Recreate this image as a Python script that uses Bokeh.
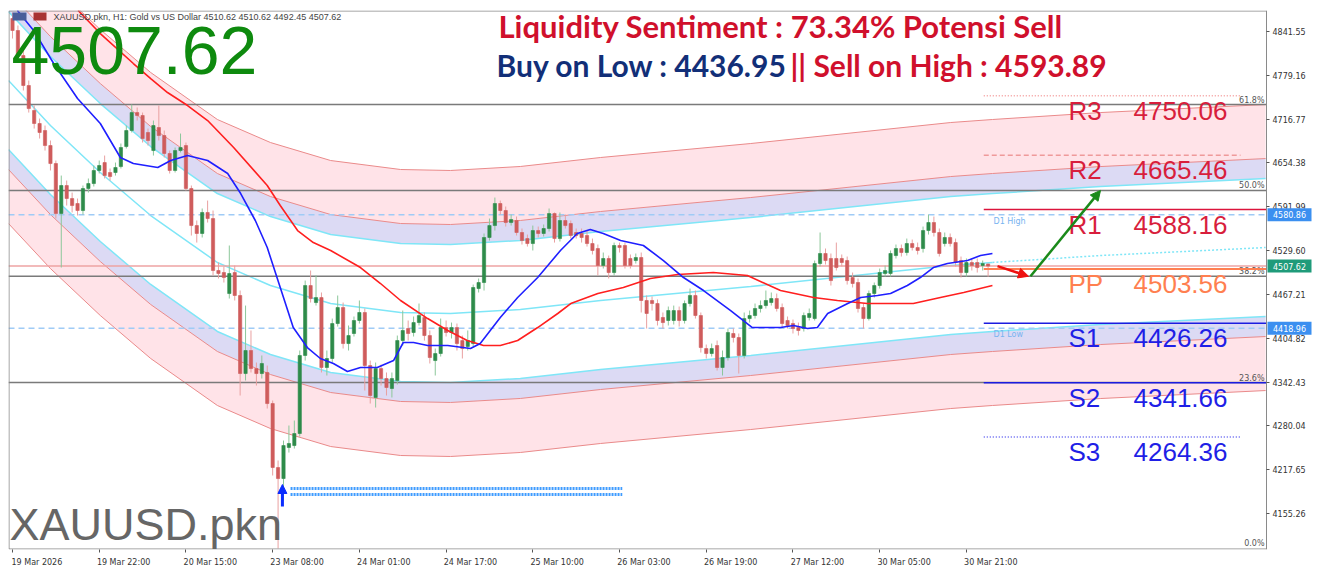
import numpy as np
from bokeh.plotting import figure
from bokeh.models import Range1d, FixedTicker, Arrow, NormalHead, PrintfTickFormatter
from bokeh.core.properties import value
from bokeh.embed import file_html
from bokeh.resources import INLINE

# ---------------- data ----------------
opens = [4860.1, 4843.0, 4807.4, 4764.7, 4729.1, 4710.6, 4700.6, 4679.2, 4653.6, 4582.4,
         4622.3, 4603.8, 4596.7, 4586.7, 4618.0, 4625.1, 4643.7, 4655.0, 4640.8, 4640.8,
         4649.3, 4677.8, 4700.6, 4726.2, 4722.0, 4697.8, 4672.1, 4704.9, 4693.5, 4667.9,
         4643.7, 4672.1, 4679.2, 4618.0, 4565.3, 4554.0, 4583.9, 4575.3, 4501.3, 4498.4,
         4468.5, 4498.4, 4465.7, 4354.6, 4387.4, 4361.7, 4354.6, 4356.1, 4311.9, 4220.8,
         4205.1, 4249.3, 4252.1, 4269.2, 4380.3, 4479.9, 4455.7, 4462.8, 4363.2, 4376.0,
         4425.8, 4448.6, 4397.3, 4411.6, 4430.1, 4441.5, 4366.0, 4320.5, 4361.7, 4347.5,
         4333.3, 4344.7, 4401.6, 4418.7, 4413.0, 4427.2, 4434.4, 4408.7, 4373.1, 4383.1,
         4420.1, 4413.0, 4420.1, 4401.6, 4393.1, 4397.3, 4475.6, 4484.2, 4548.3, 4565.3,
         4596.7, 4586.7, 4569.6, 4572.5, 4555.4, 4546.8, 4539.7, 4558.2, 4554.0, 4561.1,
         4582.4, 4546.8, 4572.5, 4568.2, 4555.4, 4554.0, 4551.1, 4539.7, 4532.6, 4508.4,
         4518.4, 4498.4, 4536.9, 4536.9, 4518.4, 4515.5, 4519.8, 4458.6, 4458.6, 4454.3,
         4434.4, 4430.1, 4430.1, 4444.3, 4430.1, 4454.3, 4465.7, 4437.2, 4390.2, 4383.1,
         4394.5, 4363.2, 4377.4, 4411.6, 4405.9, 4380.3, 4432.9, 4437.2, 4447.2, 4451.4,
         4455.7, 4461.4, 4448.6, 4430.1, 4425.8, 4420.1, 4418.7, 4434.4, 4432.9, 4511.2,
         4525.5, 4518.4, 4518.4, 4518.4, 4515.5, 4491.3, 4484.2, 4448.6, 4432.9, 4468.5,
         4479.9, 4497.0, 4497.0, 4522.6, 4532.6, 4526.9, 4539.7, 4534.0, 4532.6, 4558.2,
         4569.6, 4555.4, 4539.7, 4548.3, 4541.1, 4515.5, 4498.4, 4512.7, 4512.7, 4508.4,
         4510.62]
highs = [4868.6, 4850.1, 4814.5, 4771.8, 4736.2, 4717.7, 4707.7, 4686.4, 4657.9, 4636.5,
         4629.4, 4612.3, 4603.8, 4622.3, 4632.3, 4650.8, 4657.9, 4665.0, 4646.5, 4655.0,
         4682.1, 4707.7, 4737.6, 4733.4, 4726.2, 4703.4, 4714.8, 4736.2, 4700.6, 4672.1,
         4676.4, 4696.3, 4683.5, 4622.3, 4572.5, 4589.6, 4600.9, 4586.7, 4512.7, 4507.0,
         4536.9, 4508.4, 4472.8, 4451.4, 4415.9, 4370.3, 4380.3, 4366.0, 4316.2, 4230.8,
         4259.2, 4280.6, 4287.7, 4387.4, 4487.0, 4501.3, 4494.2, 4470.0, 4387.4, 4432.9,
         4465.7, 4455.7, 4423.0, 4435.8, 4458.6, 4447.2, 4373.1, 4370.3, 4367.4, 4356.1,
         4356.1, 4408.7, 4444.3, 4430.1, 4435.8, 4454.3, 4441.5, 4415.9, 4390.2, 4432.9,
         4430.1, 4427.2, 4425.8, 4408.7, 4415.9, 4481.3, 4489.9, 4554.0, 4575.3, 4605.2,
         4600.9, 4592.4, 4581.0, 4578.2, 4561.1, 4552.5, 4565.3, 4563.9, 4566.8, 4589.6,
         4583.9, 4583.9, 4581.0, 4572.5, 4561.1, 4561.1, 4558.2, 4546.8, 4538.3, 4526.9,
         4522.6, 4541.1, 4541.1, 4541.1, 4524.1, 4525.5, 4526.9, 4465.7, 4464.3, 4460.0,
         4441.5, 4450.0, 4451.4, 4450.0, 4458.6, 4475.6, 4472.8, 4441.5, 4395.9, 4397.3,
         4401.6, 4387.4, 4418.7, 4418.7, 4411.6, 4441.5, 4444.3, 4454.3, 4458.6, 4472.8,
         4470.0, 4468.5, 4454.3, 4435.8, 4431.5, 4427.2, 4441.5, 4447.2, 4515.5, 4555.4,
         4532.6, 4525.5, 4541.1, 4524.1, 4521.2, 4498.4, 4489.9, 4454.3, 4472.8, 4484.2,
         4504.1, 4508.4, 4529.8, 4538.3, 4538.3, 4546.8, 4545.4, 4541.1, 4563.9, 4581.0,
         4578.2, 4561.1, 4555.4, 4554.0, 4546.8, 4521.2, 4518.4, 4518.4, 4518.4, 4515.5,
         4510.62]
lows = [4831.6, 4800.3, 4757.6, 4726.2, 4703.4, 4689.2, 4672.1, 4643.7, 4575.3, 4505.5,
        4593.8, 4583.9, 4579.6, 4581.0, 4612.3, 4620.9, 4639.4, 4632.3, 4629.4, 4636.5,
        4646.5, 4675.0, 4697.8, 4714.8, 4683.5, 4679.2, 4665.0, 4686.4, 4662.2, 4639.4,
        4640.8, 4669.3, 4615.2, 4551.1, 4541.1, 4548.3, 4569.6, 4494.2, 4489.9, 4484.2,
        4461.4, 4458.6, 4323.3, 4344.7, 4356.1, 4337.5, 4347.5, 4304.8, 4209.4, 4105.5,
        4173.8, 4242.1, 4247.8, 4264.9, 4373.1, 4455.7, 4451.4, 4356.1, 4351.8, 4370.3,
        4421.5, 4390.2, 4387.4, 4407.3, 4425.8, 4330.4, 4311.9, 4306.2, 4337.5, 4323.3,
        4320.5, 4339.0, 4394.5, 4401.6, 4407.3, 4423.0, 4401.6, 4368.9, 4351.8, 4378.8,
        4407.3, 4404.5, 4387.4, 4376.0, 4387.4, 4393.1, 4470.0, 4472.8, 4544.0, 4558.2,
        4581.0, 4563.9, 4565.3, 4551.1, 4538.3, 4535.4, 4529.8, 4548.3, 4549.7, 4556.8,
        4541.1, 4542.6, 4561.1, 4546.8, 4546.8, 4541.1, 4535.4, 4524.1, 4494.2, 4504.1,
        4489.9, 4494.2, 4526.9, 4504.1, 4504.1, 4511.2, 4441.5, 4418.7, 4444.3, 4423.0,
        4418.7, 4423.0, 4424.4, 4421.5, 4425.8, 4450.0, 4432.9, 4384.5, 4376.0, 4378.8,
        4358.9, 4351.8, 4373.1, 4398.8, 4354.6, 4376.0, 4427.2, 4432.9, 4441.5, 4447.2,
        4451.4, 4442.9, 4420.1, 4418.7, 4411.6, 4408.7, 4414.4, 4430.1, 4430.1, 4507.0,
        4509.8, 4479.9, 4501.3, 4507.0, 4481.3, 4477.1, 4441.5, 4418.7, 4430.1, 4462.8,
        4475.6, 4492.7, 4492.7, 4518.4, 4521.2, 4522.6, 4529.8, 4524.1, 4526.9, 4552.5,
        4549.7, 4521.2, 4535.4, 4535.4, 4507.0, 4491.3, 4492.7, 4501.3, 4498.4, 4501.3,
        4492.45]
closes = [4843.0, 4807.4, 4764.7, 4731.9, 4710.6, 4697.8, 4679.2, 4653.6, 4582.4, 4622.3,
          4603.8, 4593.8, 4586.7, 4618.0, 4625.1, 4643.7, 4650.8, 4636.5, 4635.1, 4647.9,
          4676.4, 4700.6, 4726.2, 4722.0, 4689.2, 4686.4, 4707.7, 4693.5, 4667.9, 4643.7,
          4672.1, 4676.4, 4618.0, 4565.3, 4554.0, 4583.9, 4575.3, 4501.3, 4497.0, 4491.3,
          4497.0, 4465.7, 4354.6, 4387.4, 4361.7, 4354.6, 4368.9, 4311.9, 4220.8, 4205.1,
          4252.1, 4255.0, 4269.2, 4380.3, 4479.9, 4461.4, 4462.8, 4363.2, 4376.0, 4425.8,
          4448.6, 4397.3, 4408.7, 4430.1, 4441.5, 4366.0, 4323.3, 4361.7, 4347.5, 4334.7,
          4347.5, 4401.6, 4415.9, 4411.6, 4427.2, 4437.2, 4408.7, 4377.4, 4383.1, 4420.1,
          4413.0, 4420.1, 4397.3, 4390.2, 4401.6, 4477.1, 4484.2, 4548.3, 4565.3, 4596.7,
          4586.7, 4569.6, 4573.9, 4555.4, 4544.0, 4539.7, 4558.2, 4554.0, 4561.1, 4582.4,
          4546.8, 4572.5, 4565.3, 4551.1, 4551.1, 4548.3, 4539.7, 4529.8, 4508.4, 4518.4,
          4498.4, 4536.9, 4534.0, 4508.4, 4508.4, 4519.8, 4458.6, 4440.1, 4454.3, 4430.1,
          4427.2, 4444.3, 4444.3, 4430.1, 4454.3, 4465.7, 4437.2, 4391.6, 4383.1, 4390.2,
          4363.2, 4377.4, 4413.0, 4405.9, 4380.3, 4432.9, 4437.2, 4447.2, 4451.4, 4458.6,
          4461.4, 4447.2, 4425.8, 4423.0, 4418.7, 4415.9, 4437.2, 4440.1, 4511.2, 4525.5,
          4515.5, 4487.0, 4505.5, 4512.7, 4487.0, 4482.8, 4447.2, 4432.9, 4468.5, 4479.9,
          4498.4, 4501.3, 4525.5, 4532.6, 4526.9, 4539.7, 4534.0, 4529.8, 4558.2, 4569.6,
          4555.4, 4525.5, 4548.3, 4539.7, 4512.7, 4498.4, 4512.7, 4508.4, 4505.5, 4511.2,
          4507.62]

time_labels = ["19 Mar 2026", "19 Mar 22:00", "20 Mar 15:00", "23 Mar 08:00", "24 Mar 01:00",
               "24 Mar 17:00", "25 Mar 10:00", "26 Mar 03:00", "26 Mar 19:00", "27 Mar 12:00",
               "30 Mar 05:00", "30 Mar 21:00"]
bars_per_label = 16
price_ticks = [4155.26, 4217.65, 4280.04, 4342.43, 4404.82, 4467.21, 4529.60,
               4591.99, 4654.38, 4716.77, 4779.16, 4841.55]

# regression channel (centre line) and band widths
channel_bar = [-0.74, 7.0, 16.2, 25.5, 37.8, 47.6, 58.7, 71.6, 80.8, 93.7, 108.5, 136.2, 173.1, 180.8, 200.7, 231.2]
channel_mid = [4771.8, 4707.7, 4640.8, 4579.6, 4512.7, 4479.9, 4454.3, 4441.5, 4440.1, 4445.8, 4458.6, 4478.5,
               4508.4, 4512.7, 4522.6, 4534.0]
band_inner, band_middle, band_outer = 98.2, 126.7, 203.6

# moving averages
ma_fast_bar = [0.9, 3.9, 7.6, 12.0, 16.2, 19.9, 22.3, 26.8, 29.2, 32.3, 36.0, 39.7, 42.1, 44.8, 47.0, 49.4,
               51.8, 54.4, 56.8, 59.2, 61.8, 64.2, 67.3, 70.3, 72.1, 74.0, 76.6, 80.3, 84.5, 86.3, 90.0,
               93.2, 96.9, 101.1, 104.2, 106.6, 109.0, 112.2, 116.4, 120.1, 123.8, 127.5, 132.5, 136.5,
               141.7, 144.1, 146.7, 148.5, 150.4, 154.1, 156.5, 159.6, 162.0, 165.1, 167.5, 169.9,
               172.5, 176.2, 178.6, 180.8]
ma_fast = [4871.5, 4843.0, 4796.0, 4746.2, 4710.6, 4662.2, 4653.6, 4647.9, 4657.9, 4665.0, 4657.9, 4639.4,
           4610.9, 4572.5, 4534.0, 4477.1, 4420.1, 4391.6, 4376.0, 4368.9, 4357.5, 4363.2, 4363.2, 4373.1,
           4398.8, 4398.8, 4394.5, 4394.5, 4390.2, 4397.3, 4434.4, 4462.8, 4491.3, 4529.8, 4554.0, 4559.7,
           4554.0, 4544.0, 4536.9, 4515.5, 4491.3, 4472.8, 4444.3, 4420.1, 4420.1, 4423.0, 4418.7, 4420.1,
           4440.1, 4454.3, 4462.8, 4465.7, 4468.5, 4479.9, 4491.3, 4505.5, 4511.2, 4515.5, 4522.6, 4525.5]
ma_slow_bar = [12.1, 16.2, 22.3, 25.5, 28.6, 32.3, 36.0, 40.8, 47.0, 49.4, 52.6, 55.5, 58.7, 64.2, 67.9,
               71.6, 76.6, 80.3, 83.9, 86.9, 90.0, 93.2, 96.9, 100.6, 103.0, 108.0, 112.7, 117.7, 122.7,
               129.3, 135.6, 141.7, 147.8, 152.2, 157.7, 166.2, 171.2, 175.5, 180.8]
ma_slow = [4871.5, 4838.7, 4796.0, 4774.6, 4754.7, 4736.2, 4714.8, 4676.4, 4622.3, 4593.8, 4558.2, 4541.1,
           4529.8, 4505.5, 4482.8, 4458.6, 4432.9, 4415.9, 4401.6, 4394.5, 4394.5, 4401.6, 4420.1, 4440.1,
           4454.3, 4468.5, 4477.1, 4489.9, 4495.6, 4498.4, 4494.2, 4472.8, 4462.8, 4458.6, 4454.3, 4454.3,
           4462.8, 4470.0, 4479.9]

pivot_names = ["R3", "R2", "R1", "PP", "S1", "S2", "S3"]
pivot_values = [4750.06, 4665.46, 4588.16, 4503.56, 4426.26, 4341.66, 4264.36]

fib_low, fib_high = 4097.3, 5133.4
fib_ratios = [0.0, 0.236, 0.382, 0.5, 0.618]

d1_high, d1_low = 4580.86, 4418.96
last_price = 4507.62
sentiment_pct = 73.34
buy_on_low, sell_on_high = 4436.95, 4593.89
zone_levels = [4190.9, 4182.3]
zone_bars = [51.3, 112.5]

# ---------------- layout helpers (page pixel -> data) ----------------
BPX = 5.42      # pixels per bar
PPX = 1.4238    # price per pixel
def bx(px):
    return (px - 12) / BPX
def py(ypx):
    return 4871.5 - (ypx - 10) * PPX

o = np.array(opens); h = np.array(highs); l = np.array(lows); c = np.array(closes)
n = len(c)
idx = np.arange(n)
up = c >= o

x_lo, x_hi, x_edge = bx(8), bx(1317), bx(1266)
y_lo, y_hi = py(549), py(10)
GRID = "#8a8a8a"

p = figure(width=1317, height=571, x_range=Range1d(x_lo, x_hi), y_range=Range1d(y_lo, y_hi),
           output_backend="svg", toolbar_location=None, y_axis_location="right",
           min_border_left=8, min_border_top=10, min_border_right=0, min_border_bottom=22)
p.xgrid.visible = False
p.ygrid.visible = False
p.outline_line_color = None
p.background_fill_color = "white"
p.border_fill_color = "white"

# x axis: tick marks (minor ticks) at the bars, labels starting right of each tick
lab_shift = 4.5
tick_bars = [i * bars_per_label for i in range(len(time_labels))]
xa = p.xaxis[0]
xa.ticker = FixedTicker(ticks=[t + lab_shift for t in tick_bars], minor_ticks=tick_bars)
xa.major_label_overrides = {t + lab_shift: lab for t, lab in zip(tick_bars, time_labels)}
xa.major_tick_line_color = None
xa.major_tick_in = 0
xa.major_tick_out = 3
xa.minor_tick_line_color = "#555555"
xa.minor_tick_in = 0
xa.minor_tick_out = 3
xa.axis_line_color = None
xa.major_label_standoff = 5
xa.major_label_text_font = "DejaVu Sans"
xa.major_label_text_font_size = "8px"
xa.major_label_text_color = "#333333"

ya = p.yaxis[0]
ya.fixed_location = x_edge
ya.ticker = FixedTicker(ticks=price_ticks)
ya.formatter = PrintfTickFormatter(format="%.2f")
ya.minor_tick_line_color = None
ya.major_tick_in = 0
ya.major_tick_out = 3
ya.axis_line_color = GRID
ya.major_tick_line_color = "#555555"
ya.major_label_text_font = "DejaVu Sans"
ya.major_label_text_font_size = "8px"
ya.major_label_text_color = "#333333"
ya.major_label_standoff = 3

# channel
cb = np.array(channel_bar)
mid = np.array(channel_mid)
for s in (1, -1):
    p.varea(x=cb, y1=mid + s * band_middle, y2=mid + s * band_outer, fill_color="#ffe3e8")
    p.varea(x=cb, y1=mid + s * band_inner, y2=mid + s * band_middle, fill_color="#dcdaf4")
for s in (1, -1):
    p.line(cb, mid + s * band_outer, line_color="#ea8a8a", line_width=1)
    p.line(cb, mid + s * band_middle, line_color="#ea8a8a", line_width=1)
    p.line(cb, mid + s * band_inner, line_color="#7fe6f7", line_width=1.5)
solid = cb <= n - 0.2
p.line(cb[solid], mid[solid], line_color="#7fe6f7", line_width=1.5)
k = np.where(solid)[0][-1]
p.line(cb[k:], mid[k:], line_color="#7fe6f7", line_width=1.5, line_dash="2 2")

# fibonacci levels
fib_levels = [fib_low + r * (fib_high - fib_low) for r in fib_ratios]
for lv in fib_levels:
    p.segment(x0=x_lo, y0=lv, x1=x_edge, y1=lv, line_color="#7a7a7a", line_width=1.5)
p.text(x=[bx(1264)] * len(fib_levels), y=[max(lv, py(547)) for lv in fib_levels],
       text=[f"{r * 100:.1f}%" for r in fib_ratios], text_align="right", text_baseline="bottom",
       text_font=value("DejaVu Sans"), text_font_size="8px", text_color="#555555")

# daily high / low + bid line
for lv in (d1_high, d1_low):
    p.segment(x0=x_lo, y0=lv, x1=x_edge, y1=lv, line_color="#9fcbf6", line_width=1.5, line_dash="6 4")
p.text(x=[bx(993), bx(993)], y=[d1_high - 2 * PPX, d1_low - 2 * PPX], text=["D1 High", "D1 Low"],
       text_baseline="top", text_font=value("DejaVu Sans"), text_font_size="8px", text_color="#78b4f0")
p.segment(x0=x_lo, y0=last_price, x1=x_edge, y1=last_price, line_color="#eea3a3", line_width=1.5)

# support zone
for lv in zone_levels:
    p.segment(x0=zone_bars[0], y0=lv, x1=zone_bars[1], y1=lv, line_color="#3f9cff", line_width=3, line_dash="2 1")

# candles
bull_body, bear_body = "#2e8b4a", "#cf5c5c"
bull_wick, bear_wick = "#8cc79a", "#e9a0a0"
p.segment(x0=idx, y0=np.maximum(h, np.maximum(o, c)), x1=idx, y1=np.minimum(l, np.minimum(o, c)),
          line_color=[bull_wick if u else bear_wick for u in up], line_width=1)
p.vbar(x=idx, width=0.6, top=np.maximum(o, c), bottom=np.minimum(o, c),
       fill_color=[bull_body if u else bear_body for u in up],
       line_color=[bull_body if u else bear_body for u in up], line_width=0.6)

# moving averages
p.line(ma_slow_bar, ma_slow, line_color="#ff1f1f", line_width=1.6)
p.line(ma_fast_bar, ma_fast, line_color="#1f1fff", line_width=1.6)

# pivots
piv_x0 = n - 1.8
styles = {"R3": ("#f39a9a", "1 2", bx(1240)), "R2": ("#ef9a9a", "5 3", bx(1240)),
          "R1": ("#dc143c", "solid", x_edge), "PP": ("#ff7f50", "solid", x_edge),
          "S1": ("#1c1ce0", "solid", x_edge), "S2": ("#1c1ce0", "solid", x_edge),
          "S3": ("#5a5af0", "1 2", bx(1240))}
text_cols = {"R": "#d81e3c", "P": "#ff7f50", "S": "#1f1fe6"}
for name, val in zip(pivot_names, pivot_values):
    col, dash, xe = styles[name]
    p.segment(x0=piv_x0, y0=val, x1=xe, y1=val, line_color=col,
              line_width=2 if name == "PP" else 1.5, line_dash=dash)
piv_label_y = [v - 15 * PPX for v in pivot_values]
p.text(x=[bx(1068)] * 7, y=piv_label_y, text=pivot_names,
       text_color=[text_cols[nm[0]] for nm in pivot_names], text_baseline="middle",
       text_font=value("Liberation Sans"), text_font_size="26px")
p.text(x=[bx(1133)] * 7, y=piv_label_y, text=[f"{v:.2f}" for v in pivot_values],
       text_color=[text_cols[nm[0]] for nm in pivot_names], text_baseline="middle",
       text_font=value("Liberation Sans"), text_font_size="26px")

# projected path arrows
fib382, fib50 = fib_levels[2], fib_levels[3]
p.add_layout(Arrow(end=NormalHead(size=10, fill_color="#ee1111", line_color="#ee1111"),
                   x_start=bx(997), y_start=last_price, x_end=bx(1028), y_end=fib382,
                   line_color="#ee1111", line_width=2.5))
p.add_layout(Arrow(end=NormalHead(size=10, fill_color="#1a8a1a", line_color="#1a8a1a"),
                   x_start=bx(1030), y_start=fib382, x_end=bx(1100), y_end=fib50,
                   line_color="#1a8a1a", line_width=2.5))
low_bar = int(np.argmin(l))
p.add_layout(Arrow(end=NormalHead(size=9, fill_color="#0a2cff", line_color="#0a2cff"),
                   x_start=low_bar + 0.8, y_start=py(506), x_end=low_bar + 0.8, y_end=py(484),
                   line_color="#0a2cff", line_width=3))

# chart border (left, top, bottom); right side is the price axis line
p.segment(x0=[bx(8.5), bx(8.5), bx(8.5)], y0=[py(548.5), py(10.5), py(548.5)],
          x1=[bx(8.5), x_edge, x_edge], y1=[py(10.5), py(10.5), py(548.5)],
          line_color=GRID, line_width=1)

# small header icons
p.quad(left=[bx(12), bx(33)], right=[bx(26), bx(46)], bottom=[py(20), py(20)], top=[py(12), py(12)],
       fill_color=["#4a5f9a", "#a83232"], line_color=None)

# texts
p.text(x=[bx(53)], y=[py(16)],
       text=[f"XAUUSD.pkn, H1:  Gold vs US Dollar  {o[-1]:.2f} {h[-1]:.2f} {l[-1]:.2f} {c[-1]:.2f}"],
       text_baseline="middle", text_font=value("Liberation Sans"), text_font_size="9px", text_color="#444444")
p.text(x=[bx(11)], y=[py(50)], text=[f"{last_price:.2f}"], text_baseline="middle",
       text_font=value("Liberation Sans"), text_font_size="68px", text_color="#0e8a0e")
p.text(x=[bx(498)], y=[py(25)], text=[f"Liquidity Sentiment :  {sentiment_pct:.2f}% Potensi Sell"],
       text_baseline="middle", text_font=value("Lato"), text_font_style="bold",
       text_font_size="31px", text_color="#d0102c")
p.text(x=[bx(496)], y=[py(64)], text=[f"Buy on Low : {buy_on_low:.2f}"],
       text_baseline="middle", text_font=value("Lato"), text_font_style="bold",
       text_font_size="30px", text_color="#122f78")
p.text(x=[bx(790)], y=[py(64)], text=[f"|| Sell on High : {sell_on_high:.2f}"],
       text_baseline="middle", text_font=value("Lato"), text_font_style="bold",
       text_font_size="30px", text_color="#d0102c")
p.text(x=[bx(9)], y=[py(524)], text=["XAUUSD.pkn"], text_baseline="middle",
       text_font=value("Liberation Sans"), text_font_size="45px", text_color="#666666")

# price boxes on the axis
box_vals = [d1_high, last_price, d1_low]
box_cols = ["#3b8ff0", "#1f9b7a", "#3b8ff0"]
p.quad(left=[bx(1267)] * 3, right=[bx(1311)] * 3, bottom=[v - 6.5 * PPX for v in box_vals],
       top=[v + 6.5 * PPX for v in box_vals], fill_color=box_cols, line_color=None, level="overlay")
p.text(x=[bx(1289)] * 3, y=box_vals, text=[f"{v:.2f}" for v in box_vals], text_align="center",
       text_baseline="middle", text_font=value("DejaVu Sans"), text_font_size="8px", text_color="white",
       level="overlay")

open("out.html", "w").write(file_html(p, INLINE))
